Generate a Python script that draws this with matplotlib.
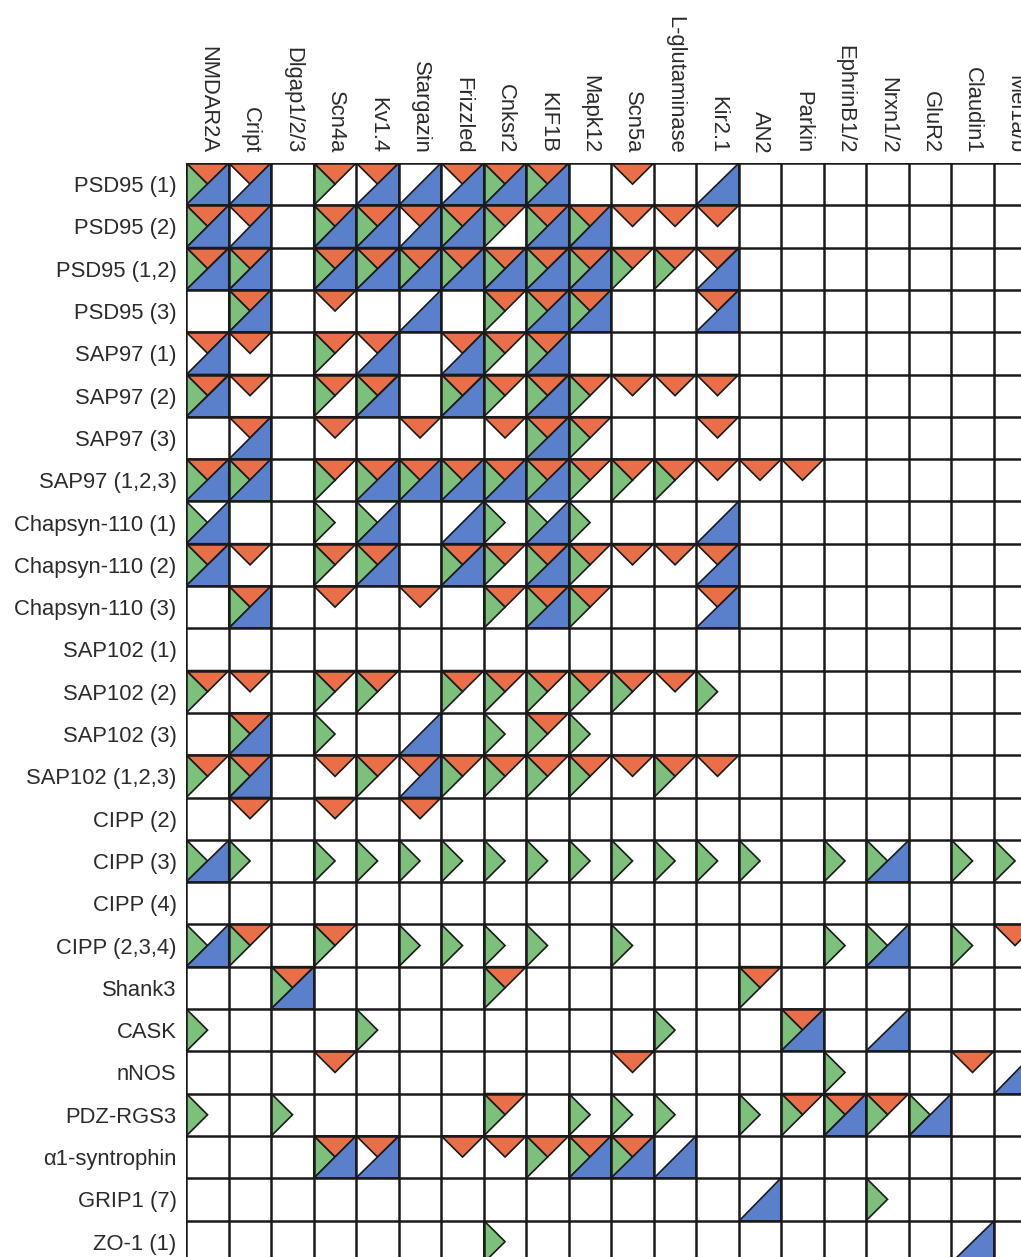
import matplotlib
matplotlib.use("Agg")
import matplotlib.pyplot as plt
from matplotlib.patches import Polygon

# ---------------- data ----------------
row_labels = ["PSD95 (1)", "PSD95 (2)", "PSD95 (1,2)", "PSD95 (3)",
              "SAP97 (1)", "SAP97 (2)", "SAP97 (3)", "SAP97 (1,2,3)",
              "Chapsyn-110 (1)", "Chapsyn-110 (2)", "Chapsyn-110 (3)",
              "SAP102 (1)", "SAP102 (2)", "SAP102 (3)", "SAP102 (1,2,3)",
              "CIPP (2)", "CIPP (3)", "CIPP (4)", "CIPP (2,3,4)",
              "Shank3", "CASK", "nNOS", "PDZ-RGS3", "α1-syntrophin",
              "GRIP1 (7)", "ZO-1 (1)"]

col_labels = ["NMDAR2A", "Cript", "Dlgap1/2/3", "Scn4a", "Kv1.4", "Stargazin",
              "Frizzled", "Cnksr2", "KIF1B", "Mapk12", "Scn5a", "L-glutaminase",
              "Kir2.1", "AN2", "Parkin", "EphrinB1/2", "Nrxn1/2", "GluR2",
              "Claudin1", "Mel1a/b"]

# R = red (top), G = green (left), B = blue (lower-right half), - = none
interactions = [
    "RGB RB  -   RG  RB  B   RB  RGB RGB -   R   -   B   -   -   -   -   -   -   -",
    "RGB RB  -   RGB RGB RB  RGB RG  RGB RGB R   R   R   -   -   -   -   -   -   -",
    "RGB RGB -   RGB RGB RGB RGB RGB RGB RGB RG  RG  RB  -   -   -   -   -   -   -",
    "-   RGB -   R   -   B   -   RG  RGB RGB -   -   RB  -   -   -   -   -   -   -",
    "RB  R   -   RG  RB  -   RB  RG  RGB -   -   -   -   -   -   -   -   -   -   -",
    "RGB R   -   RG  RGB -   RGB RG  RGB RG  R   R   R   -   -   -   -   -   -   -",
    "-   RB  -   R   -   R   -   R   RGB RG  -   -   R   -   -   -   -   -   -   -",
    "RGB RGB -   RG  RGB RGB RGB RGB RGB RG  RG  RG  R   R   R   -   -   -   -   -",
    "GB  -   -   G   GB  -   B   G   GB  G   -   -   B   -   -   -   -   -   -   -",
    "RGB R   -   RG  RGB -   RGB RG  RGB RG  R   R   RB  -   -   -   -   -   -   -",
    "-   RGB -   R   -   R   -   RG  RGB RG  -   -   RB  -   -   -   -   -   -   -",
    "-   -   -   -   -   -   -   -   -   -   -   -   -   -   -   -   -   -   -   -",
    "RG  R   -   RG  RG  -   RG  RG  RG  RG  RG  R   G   -   -   -   -   -   -   -",
    "-   RGB -   G   -   B   -   G   RG  G   -   -   -   -   -   -   -   -   -   -",
    "RG  RGB -   R   RG  RB  RG  RG  RG  RG  R   RG  R   -   -   -   -   -   -   -",
    "-   R   -   R   -   R   -   -   -   -   -   -   -   -   -   -   -   -   -   -",
    "GB  G   -   G   G   G   G   G   G   G   G   G   G   G   -   G   GB  -   G   G",
    "-   -   -   -   -   -   -   -   -   -   -   -   -   -   -   -   -   -   -   -",
    "GB  RG  -   RG  -   G   G   G   G   -   G   -   -   -   -   G   GB  -   G   R",
    "-   -   RGB -   -   -   -   RG  -   -   -   -   -   RG  -   -   -   -   -   -",
    "G   -   -   -   G   -   -   -   -   -   -   G   -   -   RGB -   B   -   -   -",
    "-   -   -   R   -   -   -   -   -   -   R   -   -   -   -   G   -   -   R   B",
    "G   -   G   -   -   -   -   RG  -   G   G   G   -   G   RG  RGB RG  GB  -   -",
    "-   -   -   RGB RB  -   R   R   RG  RGB RGB B   -   -   -   -   -   -   -   -",
    "-   -   -   -   -   -   -   -   -   -   -   -   -   B   -   -   G   -   -   -",
    "-   -   -   -   -   -   -   G   -   -   -   -   -   -   -   -   -   -   B   -",
]

colors = {"R": "#EA6F49", "G": "#7DC07B", "B": "#5A80CC"}

# ---------------- figure ----------------
W, H = 1021, 1257
fig = plt.figure(figsize=(W / 100, H / 100), dpi=100)
fig.patch.set_facecolor("white")

n_rows, n_cols = len(row_labels), len(col_labels)
grid_left, grid_top = 186.3, 163.0
cell_w, cell_h = 42.5, 42.3
ax = fig.add_axes([grid_left / W,
                   1 - (grid_top + n_rows * cell_h) / H,
                   n_cols * cell_w / W,
                   n_rows * cell_h / H])
ax.set_xlim(0, n_cols)
ax.set_ylim(n_rows, 0)
ax.set_facecolor("white")

edge = "#1a1a1a"


def tri(code, c, r):
    if code == "R":
        pts = [(c, r), (c + 1, r), (c + 0.5, r + 0.5)]
    elif code == "G":
        pts = [(c, r), (c, r + 1), (c + 0.5, r + 0.5)]
    else:
        pts = [(c + 1, r), (c + 1, r + 1), (c, r + 1)]
    return Polygon(pts, closed=True, facecolor=colors[code],
                   edgecolor=edge, linewidth=1.2, joinstyle="miter")


for r, line in enumerate(interactions):
    for c, code in enumerate(line.split()):
        if code == "-":
            continue
        for ch in code:
            ax.add_patch(tri(ch, c, r))

# grid
ax.hlines(range(n_rows + 1), 0, n_cols, colors=edge, linewidth=1.8, zorder=5)
ax.vlines(range(n_cols + 1), 0, n_rows, colors=edge, linewidth=1.8, zorder=5)

for s in ax.spines.values():
    s.set_visible(False)

ax.set_yticks([i + 0.5 for i in range(n_rows)])
ax.set_yticklabels(row_labels, fontsize=15.8, color="#2b2b2b",
                   family=["Liberation Sans", "DejaVu Sans"])
ax.tick_params(axis="y", length=0, pad=7)

ax.xaxis.tick_top()
ax.set_xticks([i + 0.5 for i in range(n_cols)])
ax.set_xticklabels(col_labels, fontsize=15.8, color="#2b2b2b", rotation=270,
                   family=["Liberation Sans", "DejaVu Sans"])
ax.tick_params(axis="x", length=0, pad=7)

fig.savefig("out.png", dpi=100)
